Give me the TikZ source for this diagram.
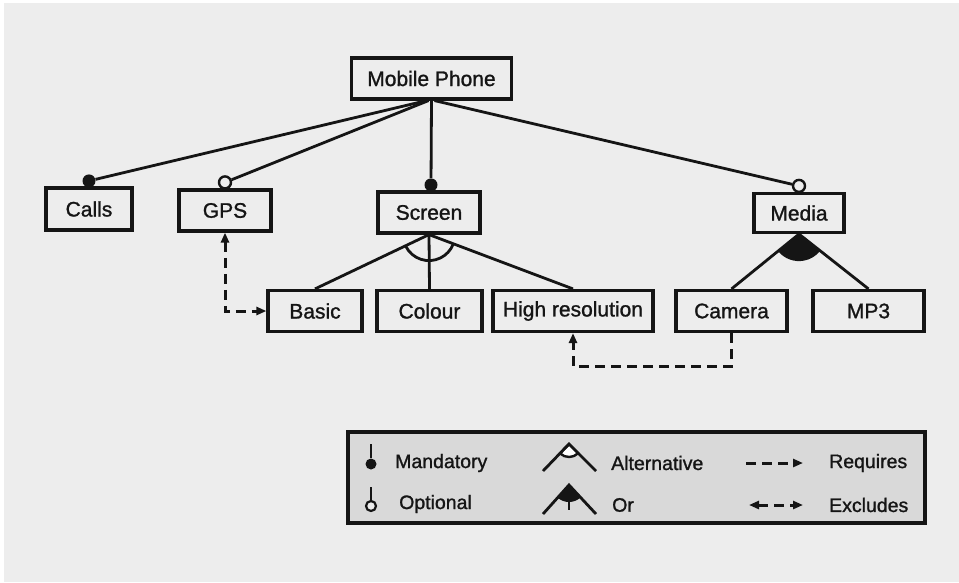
\documentclass[tikz,border=0pt]{standalone}
\usepackage{fontspec}
\setmainfont[FakeBold=1.2]{Liberation Sans}
\usetikzlibrary{arrows.meta}

\definecolor{bg}{HTML}{EDEDED}
\definecolor{legendbg}{HTML}{D9D9D9}
\definecolor{ink}{HTML}{151515}

\tikzset{
  feat/.style={draw=ink, line width=3.2pt, fill=bg, inner sep=0pt,
    minimum height=41pt, text=ink, font=\fontsize{21}{24}\selectfont},
  edge/.style={draw=ink, line width=2.8pt},
  mandot/.style={circle, fill=ink, inner sep=0pt, minimum size=13pt},
  optdot/.style={circle, draw=ink, fill=bg, line width=2.4pt, inner sep=0pt, minimum size=12pt},
  tip/.tip={Triangle[length=10pt,width=8pt]},
  req/.style={draw=ink, line width=3pt, dash pattern=on 10pt off 6pt, -tip},
  exc/.style={draw=ink, line width=3pt, dash pattern=on 10pt off 6pt, tip-tip},
  legtext/.style={anchor=west, inner sep=0pt, text=ink, font=\fontsize{19.5}{22}\selectfont},
}

\begin{document}
\begin{tikzpicture}[x=1pt,y=-1pt]
  \useasboundingbox (0,0) rectangle (959,582);
  \fill[white] (0,0) rectangle (959,582);
  \fill[bg] (4,3) rectangle (959,582);

  % features
  \node[feat, minimum width=160pt, minimum height=41pt] (mp) at (431.5,78.5) {Mobile Phone};
  \node[feat, minimum width=86pt, minimum height=42pt] (calls) at (89,209) {Calls};
  \node[feat, minimum width=92pt] (gps) at (225,210.5) {GPS};
  \node[feat, minimum width=102pt] (screen) at (429,212.5) {Screen};
  \node[feat, minimum width=90pt, minimum height=39pt] (media) at (799,213) {Media};
  \node[feat, minimum width=94pt] (basic) at (315,311) {Basic};
  \node[feat, minimum width=105pt] (colour) at (429.5,311) {Colour};
  \node[feat, minimum width=160pt] (hires) at (573,311) {High resolution};
  \node[feat, minimum width=111pt] (camera) at (731.5,311) {Camera};
  \node[feat, minimum width=111pt] (mp3) at (868.5,311) {MP3};

  % mandatory / optional markers
  \node[mandot] (callsdot) at ([yshift=5.5pt]calls.north) {};
  \node[optdot] (gpsdot) at ([yshift=6pt]gps.north) {};
  \node[mandot] (screendot) at ([xshift=2pt,yshift=5.5pt]screen.north) {};
  \node[optdot] (mediadot) at ([yshift=6pt]media.north) {};

  % root to children
  \draw[edge] ([xshift=-5pt]mp.south) -- (callsdot);
  \draw[edge] ([xshift=-3pt]mp.south) -- (gpsdot);
  \draw[edge] (mp.south) -- (screendot);
  \draw[edge] ([xshift=3pt]mp.south) -- (mediadot);

  % alternative group under Screen
  \draw[edge] (screen.south) -- (basic.north);
  \draw[edge] (screen.south) -- (colour.north);
  \draw[edge] (screen.south) -- (hires.north);
  \draw[edge] (screen.south) ++(206.6:26pt) arc[start angle=206.6, end angle=338.4, radius=26pt];

  % or group under Media
  \fill[ink] (media.south) -- ++(220.2:27pt) arc[start angle=220.2, end angle=320.6, radius=27pt] -- cycle;
  \draw[edge] (media.south) -- (camera.north);
  \draw[edge] (media.south) -- (mp3.north);

  % cross-tree constraints
  \draw[exc] (gps.south) |- (basic.west);
  \draw[req] (camera.south) -- ++(0,33) -| (hires.south);

  % legend
  \draw[draw=ink, fill=legendbg, line width=3.4pt] (348,432) rectangle (925,523);

  \coordinate (mtop) at (371,444);
  \node[mandot, minimum size=11pt] (mdot) at (371,464) {};
  \draw[edge] (mtop) -- (mdot);
  \node[legtext] (lmand) at (395,463) {Mandatory};

  \coordinate (otop) at (371,487);
  \node[optdot, minimum size=10pt, line width=2.2pt] (odot) at (371,506) {};
  \draw[edge] (otop) -- (odot);
  \node[legtext] (lopt) at (399,504) {Optional};

  \coordinate (alt) at (569,444);
  \filldraw[fill=white, draw=ink, line width=2.4pt] (alt) ++(226.1:13pt) arc[start angle=226.1, end angle=315, radius=13pt] -- (alt) -- cycle;
  \draw[edge] (543,471) -- (alt) -- (596,471);
  \node[legtext] (lalt) at (611,463) {Alternative};

  \coordinate (orx) at (569,485);
  \fill[ink] (orx) -- ++(228.1:17pt) arc[start angle=228.1, end angle=312.9, radius=17pt] -- cycle;
  \draw[edge] (543,514) -- (orx) -- (596,514);
  \draw[ink, line width=2.4pt] (569,500) -- (569,510);
  \node[legtext] (lor) at (612,505) {Or};

  \coordinate (rqa) at (746,463);
  \coordinate (rqb) at (803,463);
  \draw[req] (rqa) -- (rqb);
  \node[legtext] (lreq) at (829,463) {Requires};

  \coordinate (exa) at (749,505);
  \coordinate (exb) at (803,505);
  \draw[exc] (exa) -- (exb);
  \node[legtext] (lexc) at (829,505) {Excludes};
\end{tikzpicture}
\end{document}
